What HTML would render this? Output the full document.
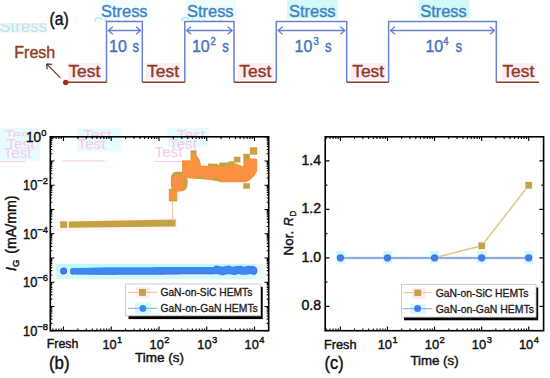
<!DOCTYPE html><html><head><meta charset="utf-8"><style>html,body{margin:0;padding:0;background:#fff;}svg{display:block;}text{font-family:"Liberation Sans", sans-serif;}</style></head><body>
<svg width="550" height="378" viewBox="0 0 550 378">
<rect width="550" height="378" fill="#fff"/>
<g opacity="1">
<rect x="99.2" y="0" width="51" height="18.5" fill="#f4fdfd"/>
<rect x="185.2" y="0" width="51" height="18.5" fill="#eefcfc"/>
<rect x="287.2" y="0" width="51" height="18.5" fill="#d4f8f8"/>
<rect x="418.4" y="0" width="51" height="18.5" fill="#d4f8f8"/>
<defs><clipPath id="g1"><rect x="0" y="23.6" width="48" height="8.4"/></clipPath><clipPath id="g2"><rect x="90" y="16.2" width="140" height="5.2"/></clipPath></defs>
<rect x="0" y="23" width="47" height="9.5" fill="#fdeefa"/>
<text x="-1" y="31.8" font-size="17" fill="#a6efef" textLength="48" lengthAdjust="spacingAndGlyphs" clip-path="url(#g1)">Stress</text>
<text x="93" y="28.6" font-size="17" fill="#a6efef" textLength="44" lengthAdjust="spacingAndGlyphs" clip-path="url(#g2)">Stress</text>
<text x="180" y="28.6" font-size="17" fill="#a6efef" textLength="44" lengthAdjust="spacingAndGlyphs" clip-path="url(#g2)">Stress</text>
<rect x="68" y="63" width="33" height="17" fill="#fdeef6"/>
<rect x="146" y="63" width="34" height="17" fill="#fdeef6"/>
<rect x="238" y="63" width="35" height="17" fill="#fdeef6"/>
<rect x="351" y="63" width="35" height="17" fill="#fdeef6"/>
<rect x="502" y="63" width="34" height="17" fill="#fdeef6"/>
</g>
<text x="49.6" y="24.8" font-size="17.5" fill="#111" stroke="#111" stroke-width="0.42" text-anchor="start" textLength="19.2" lengthAdjust="spacingAndGlyphs" >(a)</text>
<path d="M106.5,82.2 V21.6 H142.3 V82.2 M184.8,82.2 V21.6 H234 V82.2 M276.3,82.2 V21.6 H346.7 V82.2 M388.6,82.2 V21.6 H496.3 V82.2" fill="none" stroke="#6a82d2" stroke-width="1.5"/>
<path d="M66,82.2 H106.5 M142.3,82.2 H184.8 M234,82.2 H276.3 M346.7,82.2 H388.6 M496.3,82.2 H539" fill="none" stroke="#903a22" stroke-width="1.6"/>
<circle cx="65.7" cy="82.4" r="2.7" fill="#a8281c"/>
<path d="M108.3,30.5 H140.5 M112.8,26.7 L108.3,30.5 L112.8,34.3 M136.0,26.7 L140.5,30.5 L136.0,34.3" fill="none" stroke="#6a82d2" stroke-width="1.3"/>
<path d="M186.60000000000002,30.5 H232.2 M191.10000000000002,26.7 L186.60000000000002,30.5 L191.10000000000002,34.3 M227.7,26.7 L232.2,30.5 L227.7,34.3" fill="none" stroke="#6a82d2" stroke-width="1.3"/>
<path d="M278.1,30.5 H344.9 M282.6,26.7 L278.1,30.5 L282.6,34.3 M340.4,26.7 L344.9,30.5 L340.4,34.3" fill="none" stroke="#6a82d2" stroke-width="1.3"/>
<path d="M390.40000000000003,30.5 H494.5 M394.90000000000003,26.7 L390.40000000000003,30.5 L394.90000000000003,34.3 M490.0,26.7 L494.5,30.5 L490.0,34.3" fill="none" stroke="#6a82d2" stroke-width="1.3"/>
<text x="101.0" y="16.7" font-size="17.4" fill="#3d82c8" stroke="#3d82c8" stroke-width="0.4" text-anchor="start" textLength="46.6" lengthAdjust="spacingAndGlyphs" >Stress</text>
<text x="187.0" y="16.7" font-size="17.4" fill="#3d82c8" stroke="#3d82c8" stroke-width="0.4" text-anchor="start" textLength="46.6" lengthAdjust="spacingAndGlyphs" >Stress</text>
<text x="289.0" y="16.7" font-size="17.4" fill="#3d82c8" stroke="#3d82c8" stroke-width="0.4" text-anchor="start" textLength="46.6" lengthAdjust="spacingAndGlyphs" >Stress</text>
<text x="420.2" y="16.7" font-size="17.4" fill="#3d82c8" stroke="#3d82c8" stroke-width="0.4" text-anchor="start" textLength="46.6" lengthAdjust="spacingAndGlyphs" >Stress</text>
<text x="109" y="51.6" font-size="17" fill="#4870c0" stroke="#4870c0" stroke-width="0.4" text-anchor="start" textLength="17.8" lengthAdjust="spacingAndGlyphs" >10</text>
<text x="132.6" y="51.6" font-size="17" fill="#4870c0" stroke="#4870c0" stroke-width="0.4" text-anchor="start" textLength="6.6" lengthAdjust="spacingAndGlyphs" >s</text>
<text x="191.9" y="51.6" font-size="17" fill="#4870c0" stroke="#4870c0" stroke-width="0.4" text-anchor="start" textLength="17.8" lengthAdjust="spacingAndGlyphs" >10</text>
<text x="210.6" y="45.2" font-size="10.6" fill="#4870c0" stroke="#4870c0" stroke-width="0.4" text-anchor="start" textLength="5.3" lengthAdjust="spacingAndGlyphs" >2</text>
<text x="222.3" y="51.6" font-size="17" fill="#4870c0" stroke="#4870c0" stroke-width="0.4" text-anchor="start" textLength="6.6" lengthAdjust="spacingAndGlyphs" >s</text>
<text x="294.6" y="51.6" font-size="17" fill="#4870c0" stroke="#4870c0" stroke-width="0.4" text-anchor="start" textLength="17.8" lengthAdjust="spacingAndGlyphs" >10</text>
<text x="313.6" y="45.2" font-size="10.6" fill="#4870c0" stroke="#4870c0" stroke-width="0.4" text-anchor="start" textLength="5.3" lengthAdjust="spacingAndGlyphs" >3</text>
<text x="325.0" y="51.6" font-size="17" fill="#4870c0" stroke="#4870c0" stroke-width="0.4" text-anchor="start" textLength="6.6" lengthAdjust="spacingAndGlyphs" >s</text>
<text x="425.4" y="51.6" font-size="17" fill="#4870c0" stroke="#4870c0" stroke-width="0.4" text-anchor="start" textLength="17.8" lengthAdjust="spacingAndGlyphs" >10</text>
<text x="443.2" y="45.2" font-size="10.6" fill="#4870c0" stroke="#4870c0" stroke-width="0.4" text-anchor="start" textLength="5.3" lengthAdjust="spacingAndGlyphs" >4</text>
<text x="455.6" y="51.6" font-size="17" fill="#4870c0" stroke="#4870c0" stroke-width="0.4" text-anchor="start" textLength="6.6" lengthAdjust="spacingAndGlyphs" >s</text>
<text x="68.4" y="77.3" font-size="17.4" fill="#903a22" stroke="#903a22" stroke-width="0.4" text-anchor="start" textLength="32.0" lengthAdjust="spacingAndGlyphs" >Test</text>
<text x="147.0" y="77.3" font-size="17.4" fill="#903a22" stroke="#903a22" stroke-width="0.4" text-anchor="start" textLength="32.0" lengthAdjust="spacingAndGlyphs" >Test</text>
<text x="239.3" y="77.3" font-size="17.4" fill="#903a22" stroke="#903a22" stroke-width="0.4" text-anchor="start" textLength="32.0" lengthAdjust="spacingAndGlyphs" >Test</text>
<text x="352.2" y="77.3" font-size="17.4" fill="#903a22" stroke="#903a22" stroke-width="0.4" text-anchor="start" textLength="32.0" lengthAdjust="spacingAndGlyphs" >Test</text>
<text x="502.4" y="77.3" font-size="17.4" fill="#903a22" stroke="#903a22" stroke-width="0.4" text-anchor="start" textLength="32.0" lengthAdjust="spacingAndGlyphs" >Test</text>
<text x="14.3" y="57.5" font-size="16.8" fill="#903a22" stroke="#903a22" stroke-width="0.4" text-anchor="start" textLength="41" lengthAdjust="spacingAndGlyphs" >Fresh</text>
<path d="M60.4,77.9 L46.6,63.9 M46.6,63.9 L47.2,69.3 M46.6,63.9 L52,64.5" fill="none" stroke="#6b3a2a" stroke-width="1.3"/>
<defs><clipPath id="g3"><rect x="0" y="127.5" width="550" height="9"/></clipPath></defs>
<rect x="0" y="127.7" width="40" height="33" fill="#e6fcfc"/>
<rect x="77.5" y="128.2" width="43.5" height="23.3" fill="#e6fcfc"/>
<rect x="167.6" y="128" width="40.8" height="19" fill="#e6fcfc"/>
<text x="4.8" y="139.8" font-size="14.5" fill="#f8c8ef" textLength="28" lengthAdjust="spacingAndGlyphs" clip-path="url(#g3)">Test</text>
<text x="6.5" y="149.2" font-size="14.5" fill="#f8c8ef" textLength="28" lengthAdjust="spacingAndGlyphs">Test</text>
<text x="3.6" y="158.1" font-size="14.5" fill="#f8c8ef" textLength="28" lengthAdjust="spacingAndGlyphs">Test</text>
<text x="83.3" y="139.8" font-size="14.5" fill="#f8c8ef" textLength="28" lengthAdjust="spacingAndGlyphs" clip-path="url(#g3)">Test</text>
<text x="77.5" y="148.5" font-size="14.5" fill="#f8c8ef" textLength="28" lengthAdjust="spacingAndGlyphs">Test</text>
<text x="177" y="139.8" font-size="14.5" fill="#f8c8ef" textLength="28" lengthAdjust="spacingAndGlyphs" clip-path="url(#g3)">Test</text>
<text x="169" y="148.5" font-size="14.5" fill="#f8c8ef" textLength="28" lengthAdjust="spacingAndGlyphs">Test</text>
<text x="154.5" y="157.3" font-size="14.5" fill="#f8c8ef" textLength="28" lengthAdjust="spacingAndGlyphs">Test</text>
<path d="M0,161.7 H25.6 M61.5,160.9 H105 M154.5,161.6 H183.6" stroke="#f8c8ef" stroke-width="1"/>
<rect x="55.9" y="263.8" width="200.5" height="8" fill="#bdfbfb"/>
<rect x="55.9" y="271.8" width="200.5" height="7.4" fill="#cdfcfc"/>
<rect x="256.4" y="263.8" width="7.5" height="15.4" fill="#e4fdfb"/>
<rect x="57" y="218" width="122" height="13" fill="#fef6fa"/>
<rect x="60.2" y="221.3" width="6.9" height="6.6" fill="#c4a242"/>
<polygon points="68.7,221.6 175.6,219.6 175.6,226.4 68.7,227.8" fill="#c4a242"/>
<path d="M172.6,221 V201" stroke="#e9c9a0" stroke-width="1.1"/>
<rect x="168.8" y="188.8" width="8.4" height="12.6" fill="#c4a242"/>
<rect x="169.3" y="190.6" width="7.4" height="9.3" fill="#fa9140"/>
<path d="M170.9,178 Q171.5,172 176,171.8 L181.5,171.8 Q187.8,174 187.8,182 Q187.8,191.4 181,191.4 L175,191.4 Q170.9,190 170.9,184 Z" fill="#c4a242"/>
<path d="M172,179 Q173,175.5 177,175.5 L181,175.5 Q184.5,177 184.5,183 Q184.5,190.8 180,191.2 L176,191.2 Q172,189 172,184 Z" fill="#fa9140"/>
<polygon points="182,160.2 190.6,160.2 190.6,155.5 197,155.5 199.9,160.2 201,165.5 215,166.2 219.4,164.5 233.9,162.5 243.3,166.5 243.3,158.9 250,158.2 257.2,158.9 257.2,171.2 254,176.3 250,180 246,182.2 221,182.2 215,180.5 205,179.5 190,178.5 182,177" fill="#fa9140"/>
<rect x="190.6" y="150.3" width="5.9" height="6.2" fill="#c4a242"/>
<rect x="208" y="163.5" width="5" height="3.2" fill="#c4a242"/>
<rect x="213" y="163.8" width="5" height="3" fill="#c4a242"/>
<rect x="219.4" y="162.6" width="5.2" height="4" fill="#c4a242"/>
<rect x="224.2" y="162.4" width="5.2" height="4" fill="#c4a242"/>
<rect x="228.8" y="161.2" width="5.1" height="4" fill="#c4a242"/>
<rect x="233.9" y="156.7" width="6.5" height="5.8" fill="#c4a242"/>
<rect x="243.3" y="153.8" width="6.6" height="5.6" fill="#c4a242"/>
<rect x="249.9" y="147.3" width="7.3" height="7.4" fill="#c4a242"/>
<rect x="243.3" y="183.2" width="6.6" height="5.5" fill="#c4a242"/>
<rect x="196" y="176.5" width="8" height="2.4" fill="#c4a242"/>
<rect x="213" y="178" width="7" height="2.5" fill="#c4a242"/>
<rect x="191.8" y="153.6" width="3.8" height="3.4" fill="#fa9140"/>
<rect x="252" y="150" width="3.4" height="2.8" fill="#fa9140"/>
<circle cx="63.6" cy="271.1" r="3.5" fill="#4f62e6"/>
<circle cx="63.6" cy="271.1" r="2.2" fill="#4378ee"/>
<circle cx="73.30" cy="271.49" r="3.3" fill="#5a68e2"/>
<circle cx="77.70" cy="271.48" r="3.3" fill="#5a68e2"/>
<circle cx="81.66" cy="271.46" r="3.3" fill="#5a68e2"/>
<circle cx="85.22" cy="271.45" r="3.3" fill="#5a68e2"/>
<circle cx="88.43" cy="271.43" r="3.3" fill="#5a68e2"/>
<circle cx="91.32" cy="271.42" r="3.3" fill="#5a68e2"/>
<circle cx="93.92" cy="271.41" r="3.3" fill="#5a68e2"/>
<circle cx="96.25" cy="271.40" r="3.3" fill="#5a68e2"/>
<circle cx="98.36" cy="271.39" r="3.3" fill="#5a68e2"/>
<circle cx="100.25" cy="271.39" r="3.3" fill="#5a68e2"/>
<circle cx="101.96" cy="271.38" r="3.3" fill="#5a68e2"/>
<circle cx="103.49" cy="271.37" r="3.3" fill="#5a68e2"/>
<circle cx="104.87" cy="271.37" r="3.3" fill="#5a68e2"/>
<circle cx="106.12" cy="271.36" r="3.3" fill="#5a68e2"/>
<circle cx="107.32" cy="271.36" r="3.3" fill="#5a68e2"/>
<circle cx="108.52" cy="271.35" r="3.3" fill="#5a68e2"/>
<circle cx="109.72" cy="271.35" r="3.3" fill="#5a68e2"/>
<circle cx="110.92" cy="271.34" r="3.3" fill="#5a68e2"/>
<circle cx="112.12" cy="271.34" r="3.3" fill="#5a68e2"/>
<circle cx="113.32" cy="271.33" r="3.3" fill="#5a68e2"/>
<circle cx="114.52" cy="271.33" r="3.3" fill="#5a68e2"/>
<circle cx="115.72" cy="271.33" r="3.3" fill="#5a68e2"/>
<circle cx="116.92" cy="271.32" r="3.3" fill="#5a68e2"/>
<circle cx="118.12" cy="271.32" r="3.3" fill="#5a68e2"/>
<circle cx="119.32" cy="271.31" r="3.3" fill="#5a68e2"/>
<circle cx="120.52" cy="271.31" r="3.3" fill="#5a68e2"/>
<circle cx="121.72" cy="271.30" r="3.3" fill="#5a68e2"/>
<circle cx="122.92" cy="271.30" r="3.3" fill="#5a68e2"/>
<circle cx="124.12" cy="271.29" r="3.3" fill="#5a68e2"/>
<circle cx="125.32" cy="271.29" r="3.3" fill="#5a68e2"/>
<circle cx="126.52" cy="271.28" r="3.3" fill="#5a68e2"/>
<circle cx="127.72" cy="271.28" r="3.3" fill="#5a68e2"/>
<circle cx="128.92" cy="271.27" r="3.3" fill="#5a68e2"/>
<circle cx="130.12" cy="271.27" r="3.3" fill="#5a68e2"/>
<circle cx="131.32" cy="271.26" r="3.3" fill="#5a68e2"/>
<circle cx="132.52" cy="271.26" r="3.3" fill="#5a68e2"/>
<circle cx="133.72" cy="271.25" r="3.3" fill="#5a68e2"/>
<circle cx="134.92" cy="271.25" r="3.3" fill="#5a68e2"/>
<circle cx="136.12" cy="271.24" r="3.3" fill="#5a68e2"/>
<circle cx="137.32" cy="271.24" r="3.3" fill="#5a68e2"/>
<circle cx="138.52" cy="271.23" r="3.3" fill="#5a68e2"/>
<circle cx="139.72" cy="271.23" r="3.3" fill="#5a68e2"/>
<circle cx="140.92" cy="271.22" r="3.3" fill="#5a68e2"/>
<circle cx="142.12" cy="271.22" r="3.3" fill="#5a68e2"/>
<circle cx="143.32" cy="271.21" r="3.3" fill="#5a68e2"/>
<circle cx="144.52" cy="271.21" r="3.3" fill="#5a68e2"/>
<circle cx="145.72" cy="271.21" r="3.3" fill="#5a68e2"/>
<circle cx="146.92" cy="271.20" r="3.3" fill="#5a68e2"/>
<circle cx="148.12" cy="271.20" r="3.3" fill="#5a68e2"/>
<circle cx="149.32" cy="271.19" r="3.3" fill="#5a68e2"/>
<circle cx="150.52" cy="271.19" r="3.3" fill="#5a68e2"/>
<circle cx="151.72" cy="271.18" r="3.3" fill="#5a68e2"/>
<circle cx="152.92" cy="271.18" r="3.3" fill="#5a68e2"/>
<circle cx="154.12" cy="271.17" r="3.3" fill="#5a68e2"/>
<circle cx="155.32" cy="271.17" r="3.3" fill="#5a68e2"/>
<circle cx="156.52" cy="271.16" r="3.3" fill="#5a68e2"/>
<circle cx="157.72" cy="271.16" r="3.3" fill="#5a68e2"/>
<circle cx="158.92" cy="271.15" r="3.3" fill="#5a68e2"/>
<circle cx="160.12" cy="271.15" r="3.3" fill="#5a68e2"/>
<circle cx="161.32" cy="271.14" r="3.3" fill="#5a68e2"/>
<circle cx="162.52" cy="271.14" r="3.3" fill="#5a68e2"/>
<circle cx="163.72" cy="271.13" r="3.3" fill="#5a68e2"/>
<circle cx="164.92" cy="271.13" r="3.3" fill="#5a68e2"/>
<circle cx="166.12" cy="271.12" r="3.3" fill="#5a68e2"/>
<circle cx="167.32" cy="271.12" r="3.3" fill="#5a68e2"/>
<circle cx="168.52" cy="271.11" r="3.3" fill="#5a68e2"/>
<circle cx="169.72" cy="271.11" r="3.3" fill="#5a68e2"/>
<circle cx="170.92" cy="271.10" r="3.3" fill="#5a68e2"/>
<circle cx="172.12" cy="271.10" r="3.3" fill="#5a68e2"/>
<circle cx="173.32" cy="271.09" r="3.3" fill="#5a68e2"/>
<circle cx="174.52" cy="271.09" r="3.3" fill="#5a68e2"/>
<circle cx="175.72" cy="271.09" r="3.3" fill="#5a68e2"/>
<circle cx="176.92" cy="271.08" r="3.3" fill="#5a68e2"/>
<circle cx="178.12" cy="271.08" r="3.3" fill="#5a68e2"/>
<circle cx="179.32" cy="271.07" r="3.3" fill="#5a68e2"/>
<circle cx="180.52" cy="271.07" r="3.3" fill="#5a68e2"/>
<circle cx="181.72" cy="271.06" r="3.3" fill="#5a68e2"/>
<circle cx="182.92" cy="271.06" r="3.3" fill="#5a68e2"/>
<circle cx="184.12" cy="271.05" r="3.3" fill="#5a68e2"/>
<circle cx="185.32" cy="271.05" r="3.3" fill="#5a68e2"/>
<circle cx="186.52" cy="271.04" r="3.3" fill="#5a68e2"/>
<circle cx="187.72" cy="271.04" r="3.3" fill="#5a68e2"/>
<circle cx="188.92" cy="271.03" r="3.3" fill="#5a68e2"/>
<circle cx="190.12" cy="271.03" r="3.3" fill="#5a68e2"/>
<circle cx="191.32" cy="271.02" r="3.3" fill="#5a68e2"/>
<circle cx="192.52" cy="271.02" r="3.3" fill="#5a68e2"/>
<circle cx="193.72" cy="271.01" r="3.3" fill="#5a68e2"/>
<circle cx="194.92" cy="271.01" r="3.3" fill="#5a68e2"/>
<circle cx="196.12" cy="271.00" r="3.3" fill="#5a68e2"/>
<circle cx="197.32" cy="271.00" r="3.3" fill="#5a68e2"/>
<circle cx="198.52" cy="270.99" r="3.3" fill="#5a68e2"/>
<circle cx="199.72" cy="270.99" r="3.3" fill="#5a68e2"/>
<circle cx="200.92" cy="270.98" r="3.3" fill="#5a68e2"/>
<circle cx="202.12" cy="270.98" r="3.3" fill="#5a68e2"/>
<circle cx="203.32" cy="270.97" r="3.3" fill="#5a68e2"/>
<circle cx="204.52" cy="270.97" r="3.3" fill="#5a68e2"/>
<circle cx="205.72" cy="270.97" r="3.3" fill="#5a68e2"/>
<circle cx="206.92" cy="270.96" r="3.3" fill="#5a68e2"/>
<circle cx="208.12" cy="270.96" r="3.3" fill="#5a68e2"/>
<circle cx="209.32" cy="270.95" r="3.3" fill="#5a68e2"/>
<circle cx="210.52" cy="270.95" r="3.3" fill="#5a68e2"/>
<circle cx="211.72" cy="270.94" r="3.3" fill="#5a68e2"/>
<circle cx="212.92" cy="270.94" r="3.3" fill="#5a68e2"/>
<circle cx="214.12" cy="270.93" r="3.3" fill="#5a68e2"/>
<circle cx="215.32" cy="270.45" r="3.5" fill="#5867e4"/>
<circle cx="216.52" cy="269.05" r="3.5" fill="#5867e4"/>
<circle cx="217.72" cy="270.25" r="3.5" fill="#5867e4"/>
<circle cx="218.92" cy="270.88" r="3.5" fill="#5867e4"/>
<circle cx="220.12" cy="269.75" r="3.5" fill="#5867e4"/>
<circle cx="221.32" cy="270.58" r="3.5" fill="#5867e4"/>
<circle cx="222.52" cy="271.79" r="3.5" fill="#5867e4"/>
<circle cx="223.72" cy="270.40" r="3.5" fill="#5867e4"/>
<circle cx="224.92" cy="269.79" r="3.5" fill="#5867e4"/>
<circle cx="226.12" cy="270.91" r="3.5" fill="#5867e4"/>
<circle cx="227.32" cy="270.05" r="3.5" fill="#5867e4"/>
<circle cx="228.52" cy="269.02" r="3.5" fill="#5867e4"/>
<circle cx="229.72" cy="270.56" r="3.5" fill="#5867e4"/>
<circle cx="230.92" cy="271.09" r="3.5" fill="#5867e4"/>
<circle cx="232.12" cy="269.94" r="3.5" fill="#5867e4"/>
<circle cx="233.32" cy="270.77" r="3.5" fill="#5867e4"/>
<circle cx="234.52" cy="271.59" r="3.5" fill="#5867e4"/>
<circle cx="235.72" cy="269.93" r="3.5" fill="#5867e4"/>
<circle cx="236.92" cy="269.50" r="3.5" fill="#5867e4"/>
<circle cx="238.12" cy="270.70" r="3.5" fill="#5867e4"/>
<circle cx="239.32" cy="269.89" r="3.5" fill="#5867e4"/>
<circle cx="240.52" cy="269.24" r="3.5" fill="#5867e4"/>
<circle cx="241.72" cy="270.97" r="3.5" fill="#5867e4"/>
<circle cx="242.92" cy="271.23" r="3.5" fill="#5867e4"/>
<circle cx="244.12" cy="269.94" r="3.5" fill="#5867e4"/>
<circle cx="245.32" cy="270.72" r="3.5" fill="#5867e4"/>
<circle cx="246.52" cy="271.19" r="3.5" fill="#5867e4"/>
<circle cx="247.72" cy="269.43" r="3.5" fill="#5867e4"/>
<circle cx="248.92" cy="269.36" r="3.5" fill="#5867e4"/>
<circle cx="250.12" cy="270.71" r="3.5" fill="#5867e4"/>
<circle cx="251.32" cy="269.95" r="3.5" fill="#5867e4"/>
<circle cx="252.52" cy="269.60" r="3.5" fill="#5867e4"/>
<circle cx="253.72" cy="271.32" r="3.5" fill="#5867e4"/>
<circle cx="73.30" cy="270.69" r="3.0" fill="#3d89f3"/>
<circle cx="77.70" cy="270.68" r="3.0" fill="#3d89f3"/>
<circle cx="81.66" cy="270.66" r="3.0" fill="#3d89f3"/>
<circle cx="85.22" cy="270.65" r="3.0" fill="#3d89f3"/>
<circle cx="88.43" cy="270.63" r="3.0" fill="#3d89f3"/>
<circle cx="91.32" cy="270.62" r="3.0" fill="#3d89f3"/>
<circle cx="93.92" cy="270.61" r="3.0" fill="#3d89f3"/>
<circle cx="96.25" cy="270.60" r="3.0" fill="#3d89f3"/>
<circle cx="98.36" cy="270.59" r="3.0" fill="#3d89f3"/>
<circle cx="100.25" cy="270.59" r="3.0" fill="#3d89f3"/>
<circle cx="101.96" cy="270.58" r="3.0" fill="#3d89f3"/>
<circle cx="103.49" cy="270.57" r="3.0" fill="#3d89f3"/>
<circle cx="104.87" cy="270.57" r="3.0" fill="#3d89f3"/>
<circle cx="106.12" cy="270.56" r="3.0" fill="#3d89f3"/>
<circle cx="107.32" cy="270.56" r="3.0" fill="#3d89f3"/>
<circle cx="108.52" cy="270.55" r="3.0" fill="#3d89f3"/>
<circle cx="109.72" cy="270.55" r="3.0" fill="#3d89f3"/>
<circle cx="110.92" cy="270.54" r="3.0" fill="#3d89f3"/>
<circle cx="112.12" cy="270.54" r="3.0" fill="#3d89f3"/>
<circle cx="113.32" cy="270.53" r="3.0" fill="#3d89f3"/>
<circle cx="114.52" cy="270.53" r="3.0" fill="#3d89f3"/>
<circle cx="115.72" cy="270.53" r="3.0" fill="#3d89f3"/>
<circle cx="116.92" cy="270.52" r="3.0" fill="#3d89f3"/>
<circle cx="118.12" cy="270.52" r="3.0" fill="#3d89f3"/>
<circle cx="119.32" cy="270.51" r="3.0" fill="#3d89f3"/>
<circle cx="120.52" cy="270.51" r="3.0" fill="#3d89f3"/>
<circle cx="121.72" cy="270.50" r="3.0" fill="#3d89f3"/>
<circle cx="122.92" cy="270.50" r="3.0" fill="#3d89f3"/>
<circle cx="124.12" cy="270.49" r="3.0" fill="#3d89f3"/>
<circle cx="125.32" cy="270.49" r="3.0" fill="#3d89f3"/>
<circle cx="126.52" cy="270.48" r="3.0" fill="#3d89f3"/>
<circle cx="127.72" cy="270.48" r="3.0" fill="#3d89f3"/>
<circle cx="128.92" cy="270.47" r="3.0" fill="#3d89f3"/>
<circle cx="130.12" cy="270.47" r="3.0" fill="#3d89f3"/>
<circle cx="131.32" cy="270.46" r="3.0" fill="#3d89f3"/>
<circle cx="132.52" cy="270.46" r="3.0" fill="#3d89f3"/>
<circle cx="133.72" cy="270.45" r="3.0" fill="#3d89f3"/>
<circle cx="134.92" cy="270.45" r="3.0" fill="#3d89f3"/>
<circle cx="136.12" cy="270.44" r="3.0" fill="#3d89f3"/>
<circle cx="137.32" cy="270.44" r="3.0" fill="#3d89f3"/>
<circle cx="138.52" cy="270.43" r="3.0" fill="#3d89f3"/>
<circle cx="139.72" cy="270.43" r="3.0" fill="#3d89f3"/>
<circle cx="140.92" cy="270.42" r="3.0" fill="#3d89f3"/>
<circle cx="142.12" cy="270.42" r="3.0" fill="#3d89f3"/>
<circle cx="143.32" cy="270.41" r="3.0" fill="#3d89f3"/>
<circle cx="144.52" cy="270.41" r="3.0" fill="#3d89f3"/>
<circle cx="145.72" cy="270.41" r="3.0" fill="#3d89f3"/>
<circle cx="146.92" cy="270.40" r="3.0" fill="#3d89f3"/>
<circle cx="148.12" cy="270.40" r="3.0" fill="#3d89f3"/>
<circle cx="149.32" cy="270.39" r="3.0" fill="#3d89f3"/>
<circle cx="150.52" cy="270.39" r="3.0" fill="#3d89f3"/>
<circle cx="151.72" cy="270.38" r="3.0" fill="#3d89f3"/>
<circle cx="152.92" cy="270.38" r="3.0" fill="#3d89f3"/>
<circle cx="154.12" cy="270.37" r="3.0" fill="#3d89f3"/>
<circle cx="155.32" cy="270.37" r="3.0" fill="#3d89f3"/>
<circle cx="156.52" cy="270.36" r="3.0" fill="#3d89f3"/>
<circle cx="157.72" cy="270.36" r="3.0" fill="#3d89f3"/>
<circle cx="158.92" cy="270.35" r="3.0" fill="#3d89f3"/>
<circle cx="160.12" cy="270.35" r="3.0" fill="#3d89f3"/>
<circle cx="161.32" cy="270.34" r="3.0" fill="#3d89f3"/>
<circle cx="162.52" cy="270.34" r="3.0" fill="#3d89f3"/>
<circle cx="163.72" cy="270.33" r="3.0" fill="#3d89f3"/>
<circle cx="164.92" cy="270.33" r="3.0" fill="#3d89f3"/>
<circle cx="166.12" cy="270.32" r="3.0" fill="#3d89f3"/>
<circle cx="167.32" cy="270.32" r="3.0" fill="#3d89f3"/>
<circle cx="168.52" cy="270.31" r="3.0" fill="#3d89f3"/>
<circle cx="169.72" cy="270.31" r="3.0" fill="#3d89f3"/>
<circle cx="170.92" cy="270.30" r="3.0" fill="#3d89f3"/>
<circle cx="172.12" cy="270.30" r="3.0" fill="#3d89f3"/>
<circle cx="173.32" cy="270.29" r="3.0" fill="#3d89f3"/>
<circle cx="174.52" cy="270.29" r="3.0" fill="#3d89f3"/>
<circle cx="175.72" cy="270.29" r="3.0" fill="#3d89f3"/>
<circle cx="176.92" cy="270.28" r="3.0" fill="#3d89f3"/>
<circle cx="178.12" cy="270.28" r="3.0" fill="#3d89f3"/>
<circle cx="179.32" cy="270.27" r="3.0" fill="#3d89f3"/>
<circle cx="180.52" cy="270.27" r="3.0" fill="#3d89f3"/>
<circle cx="181.72" cy="270.26" r="3.0" fill="#3d89f3"/>
<circle cx="182.92" cy="270.26" r="3.0" fill="#3d89f3"/>
<circle cx="184.12" cy="270.25" r="3.0" fill="#3d89f3"/>
<circle cx="185.32" cy="270.25" r="3.0" fill="#3d89f3"/>
<circle cx="186.52" cy="270.24" r="3.0" fill="#3d89f3"/>
<circle cx="187.72" cy="270.24" r="3.0" fill="#3d89f3"/>
<circle cx="188.92" cy="270.23" r="3.0" fill="#3d89f3"/>
<circle cx="190.12" cy="270.23" r="3.0" fill="#3d89f3"/>
<circle cx="191.32" cy="270.22" r="3.0" fill="#3d89f3"/>
<circle cx="192.52" cy="270.22" r="3.0" fill="#3d89f3"/>
<circle cx="193.72" cy="270.21" r="3.0" fill="#3d89f3"/>
<circle cx="194.92" cy="270.21" r="3.0" fill="#3d89f3"/>
<circle cx="196.12" cy="270.20" r="3.0" fill="#3d89f3"/>
<circle cx="197.32" cy="270.20" r="3.0" fill="#3d89f3"/>
<circle cx="198.52" cy="270.19" r="3.0" fill="#3d89f3"/>
<circle cx="199.72" cy="270.19" r="3.0" fill="#3d89f3"/>
<circle cx="200.92" cy="270.18" r="3.0" fill="#3d89f3"/>
<circle cx="202.12" cy="270.18" r="3.0" fill="#3d89f3"/>
<circle cx="203.32" cy="270.17" r="3.0" fill="#3d89f3"/>
<circle cx="204.52" cy="270.17" r="3.0" fill="#3d89f3"/>
<circle cx="205.72" cy="270.17" r="3.0" fill="#3d89f3"/>
<circle cx="206.92" cy="270.16" r="3.0" fill="#3d89f3"/>
<circle cx="208.12" cy="270.16" r="3.0" fill="#3d89f3"/>
<circle cx="209.32" cy="270.15" r="3.0" fill="#3d89f3"/>
<circle cx="210.52" cy="270.15" r="3.0" fill="#3d89f3"/>
<circle cx="211.72" cy="270.14" r="3.0" fill="#3d89f3"/>
<circle cx="212.92" cy="270.14" r="3.0" fill="#3d89f3"/>
<circle cx="214.12" cy="270.13" r="3.0" fill="#3d89f3"/>
<circle cx="215.32" cy="270.45" r="2.9" fill="#3d89f3"/>
<circle cx="216.52" cy="269.05" r="2.9" fill="#3d89f3"/>
<circle cx="217.72" cy="270.25" r="2.9" fill="#3d89f3"/>
<circle cx="218.92" cy="270.88" r="2.9" fill="#3d89f3"/>
<circle cx="220.12" cy="269.75" r="2.9" fill="#3d89f3"/>
<circle cx="221.32" cy="270.58" r="2.9" fill="#3d89f3"/>
<circle cx="222.52" cy="271.79" r="2.9" fill="#3d89f3"/>
<circle cx="223.72" cy="270.40" r="2.9" fill="#3d89f3"/>
<circle cx="224.92" cy="269.79" r="2.9" fill="#3d89f3"/>
<circle cx="226.12" cy="270.91" r="2.9" fill="#3d89f3"/>
<circle cx="227.32" cy="270.05" r="2.9" fill="#3d89f3"/>
<circle cx="228.52" cy="269.02" r="2.9" fill="#3d89f3"/>
<circle cx="229.72" cy="270.56" r="2.9" fill="#3d89f3"/>
<circle cx="230.92" cy="271.09" r="2.9" fill="#3d89f3"/>
<circle cx="232.12" cy="269.94" r="2.9" fill="#3d89f3"/>
<circle cx="233.32" cy="270.77" r="2.9" fill="#3d89f3"/>
<circle cx="234.52" cy="271.59" r="2.9" fill="#3d89f3"/>
<circle cx="235.72" cy="269.93" r="2.9" fill="#3d89f3"/>
<circle cx="236.92" cy="269.50" r="2.9" fill="#3d89f3"/>
<circle cx="238.12" cy="270.70" r="2.9" fill="#3d89f3"/>
<circle cx="239.32" cy="269.89" r="2.9" fill="#3d89f3"/>
<circle cx="240.52" cy="269.24" r="2.9" fill="#3d89f3"/>
<circle cx="241.72" cy="270.97" r="2.9" fill="#3d89f3"/>
<circle cx="242.92" cy="271.23" r="2.9" fill="#3d89f3"/>
<circle cx="244.12" cy="269.94" r="2.9" fill="#3d89f3"/>
<circle cx="245.32" cy="270.72" r="2.9" fill="#3d89f3"/>
<circle cx="246.52" cy="271.19" r="2.9" fill="#3d89f3"/>
<circle cx="247.72" cy="269.43" r="2.9" fill="#3d89f3"/>
<circle cx="248.92" cy="269.36" r="2.9" fill="#3d89f3"/>
<circle cx="250.12" cy="270.71" r="2.9" fill="#3d89f3"/>
<circle cx="251.32" cy="269.95" r="2.9" fill="#3d89f3"/>
<circle cx="252.52" cy="269.60" r="2.9" fill="#3d89f3"/>
<circle cx="253.72" cy="271.32" r="2.9" fill="#3d89f3"/>
<circle cx="253.8" cy="270.3" r="3.5" fill="#5867e4"/>
<circle cx="253.6" cy="270.2" r="2.9" fill="#3d89f3"/>
<rect x="128.5" y="286.8" width="134.2" height="32.3" fill="#000"/>
<rect x="125.5" y="284" width="135" height="31.8" fill="#fff" stroke="#c9c9c9" stroke-width="0.9"/>
<rect x="136" y="287" width="14" height="11" fill="#fdeaf2"/>
<rect x="135" y="302.5" width="16" height="11.5" fill="#cffdfd"/>
<path d="M128,292.4 H157.5" stroke="#ebcf9c" stroke-width="1.2"/>
<rect x="139" y="289" width="6.9" height="6.9" fill="#c4a242"/>
<path d="M128,308.4 H157.5" stroke="#a7afe6" stroke-width="1.2"/>
<circle cx="142.9" cy="308.4" r="3.4" fill="#3d89f3"/>
<text x="160.4" y="296.0" font-size="10.6" fill="#1a1a1a" stroke="#1a1a1a" stroke-width="0.3" text-anchor="start" textLength="92.0" lengthAdjust="spacingAndGlyphs" >GaN-on-SiC HEMTs</text>
<text x="160.4" y="311.9" font-size="10.6" fill="#1a1a1a" stroke="#1a1a1a" stroke-width="0.3" text-anchor="start" textLength="97.4" lengthAdjust="spacingAndGlyphs" >GaN-on-GaN HEMTs</text>
<rect x="50.3" y="136.8" width="218.39999999999998" height="193.89999999999998" fill="none" stroke="#000" stroke-width="1.6"/>
<path d="M63.50,330.7 v-4.2 M63.50,136.8 v4.2 M111.25,330.7 v-4.2 M111.25,136.8 v4.2 M159.00,330.7 v-4.2 M159.00,136.8 v4.2 M206.75,330.7 v-4.2 M206.75,136.8 v4.2 M254.50,330.7 v-4.2 M254.50,136.8 v4.2 M52.91,330.7 v-2.2 M52.91,136.8 v2.2 M56.10,330.7 v-2.2 M56.10,136.8 v2.2 M58.87,330.7 v-2.2 M58.87,136.8 v2.2 M61.32,330.7 v-2.2 M61.32,136.8 v2.2 M77.87,330.7 v-2.2 M77.87,136.8 v2.2 M86.28,330.7 v-2.2 M86.28,136.8 v2.2 M92.25,330.7 v-2.2 M92.25,136.8 v2.2 M96.88,330.7 v-2.2 M96.88,136.8 v2.2 M100.66,330.7 v-2.2 M100.66,136.8 v2.2 M103.85,330.7 v-2.2 M103.85,136.8 v2.2 M106.62,330.7 v-2.2 M106.62,136.8 v2.2 M109.07,330.7 v-2.2 M109.07,136.8 v2.2 M125.62,330.7 v-2.2 M125.62,136.8 v2.2 M134.03,330.7 v-2.2 M134.03,136.8 v2.2 M140.00,330.7 v-2.2 M140.00,136.8 v2.2 M144.63,330.7 v-2.2 M144.63,136.8 v2.2 M148.41,330.7 v-2.2 M148.41,136.8 v2.2 M151.60,330.7 v-2.2 M151.60,136.8 v2.2 M154.37,330.7 v-2.2 M154.37,136.8 v2.2 M156.82,330.7 v-2.2 M156.82,136.8 v2.2 M173.37,330.7 v-2.2 M173.37,136.8 v2.2 M181.78,330.7 v-2.2 M181.78,136.8 v2.2 M187.75,330.7 v-2.2 M187.75,136.8 v2.2 M192.38,330.7 v-2.2 M192.38,136.8 v2.2 M196.16,330.7 v-2.2 M196.16,136.8 v2.2 M199.35,330.7 v-2.2 M199.35,136.8 v2.2 M202.12,330.7 v-2.2 M202.12,136.8 v2.2 M204.57,330.7 v-2.2 M204.57,136.8 v2.2 M221.12,330.7 v-2.2 M221.12,136.8 v2.2 M229.53,330.7 v-2.2 M229.53,136.8 v2.2 M235.50,330.7 v-2.2 M235.50,136.8 v2.2 M240.13,330.7 v-2.2 M240.13,136.8 v2.2 M243.91,330.7 v-2.2 M243.91,136.8 v2.2 M247.10,330.7 v-2.2 M247.10,136.8 v2.2 M249.87,330.7 v-2.2 M249.87,136.8 v2.2 M252.32,330.7 v-2.2 M252.32,136.8 v2.2 M50.3,136.80 h4.2 M268.7,136.80 h-4.2 M50.3,161.04 h4.2 M268.7,161.04 h-4.2 M50.3,185.28 h4.2 M268.7,185.28 h-4.2 M50.3,209.51 h4.2 M268.7,209.51 h-4.2 M50.3,233.75 h4.2 M268.7,233.75 h-4.2 M50.3,257.99 h4.2 M268.7,257.99 h-4.2 M50.3,282.23 h4.2 M268.7,282.23 h-4.2 M50.3,306.46 h4.2 M268.7,306.46 h-4.2 M50.3,330.70 h4.2 M268.7,330.70 h-4.2 M50.3,323.40 h2.0 M268.7,323.40 h-2.0 M50.3,319.14 h2.0 M268.7,319.14 h-2.0 M50.3,316.11 h2.0 M268.7,316.11 h-2.0 M50.3,313.76 h2.0 M268.7,313.76 h-2.0 M50.3,311.84 h2.0 M268.7,311.84 h-2.0 M50.3,310.22 h2.0 M268.7,310.22 h-2.0 M50.3,308.81 h2.0 M268.7,308.81 h-2.0 M50.3,307.57 h2.0 M268.7,307.57 h-2.0 M50.3,299.17 h2.0 M268.7,299.17 h-2.0 M50.3,294.90 h2.0 M268.7,294.90 h-2.0 M50.3,291.87 h2.0 M268.7,291.87 h-2.0 M50.3,289.52 h2.0 M268.7,289.52 h-2.0 M50.3,287.60 h2.0 M268.7,287.60 h-2.0 M50.3,285.98 h2.0 M268.7,285.98 h-2.0 M50.3,284.57 h2.0 M268.7,284.57 h-2.0 M50.3,283.33 h2.0 M268.7,283.33 h-2.0 M50.3,274.93 h2.0 M268.7,274.93 h-2.0 M50.3,270.66 h2.0 M268.7,270.66 h-2.0 M50.3,267.63 h2.0 M268.7,267.63 h-2.0 M50.3,265.28 h2.0 M268.7,265.28 h-2.0 M50.3,263.36 h2.0 M268.7,263.36 h-2.0 M50.3,261.74 h2.0 M268.7,261.74 h-2.0 M50.3,260.34 h2.0 M268.7,260.34 h-2.0 M50.3,259.10 h2.0 M268.7,259.10 h-2.0 M50.3,250.69 h2.0 M268.7,250.69 h-2.0 M50.3,246.42 h2.0 M268.7,246.42 h-2.0 M50.3,243.40 h2.0 M268.7,243.40 h-2.0 M50.3,241.05 h2.0 M268.7,241.05 h-2.0 M50.3,239.13 h2.0 M268.7,239.13 h-2.0 M50.3,237.50 h2.0 M268.7,237.50 h-2.0 M50.3,236.10 h2.0 M268.7,236.10 h-2.0 M50.3,234.86 h2.0 M268.7,234.86 h-2.0 M50.3,226.45 h2.0 M268.7,226.45 h-2.0 M50.3,222.19 h2.0 M268.7,222.19 h-2.0 M50.3,219.16 h2.0 M268.7,219.16 h-2.0 M50.3,216.81 h2.0 M268.7,216.81 h-2.0 M50.3,214.89 h2.0 M268.7,214.89 h-2.0 M50.3,213.27 h2.0 M268.7,213.27 h-2.0 M50.3,211.86 h2.0 M268.7,211.86 h-2.0 M50.3,210.62 h2.0 M268.7,210.62 h-2.0 M50.3,202.22 h2.0 M268.7,202.22 h-2.0 M50.3,197.95 h2.0 M268.7,197.95 h-2.0 M50.3,194.92 h2.0 M268.7,194.92 h-2.0 M50.3,192.57 h2.0 M268.7,192.57 h-2.0 M50.3,190.65 h2.0 M268.7,190.65 h-2.0 M50.3,189.03 h2.0 M268.7,189.03 h-2.0 M50.3,187.62 h2.0 M268.7,187.62 h-2.0 M50.3,186.38 h2.0 M268.7,186.38 h-2.0 M50.3,177.98 h2.0 M268.7,177.98 h-2.0 M50.3,173.71 h2.0 M268.7,173.71 h-2.0 M50.3,170.68 h2.0 M268.7,170.68 h-2.0 M50.3,168.33 h2.0 M268.7,168.33 h-2.0 M50.3,166.41 h2.0 M268.7,166.41 h-2.0 M50.3,164.79 h2.0 M268.7,164.79 h-2.0 M50.3,163.39 h2.0 M268.7,163.39 h-2.0 M50.3,162.15 h2.0 M268.7,162.15 h-2.0 M50.3,153.74 h2.0 M268.7,153.74 h-2.0 M50.3,149.47 h2.0 M268.7,149.47 h-2.0 M50.3,146.45 h2.0 M268.7,146.45 h-2.0 M50.3,144.10 h2.0 M268.7,144.10 h-2.0 M50.3,142.18 h2.0 M268.7,142.18 h-2.0 M50.3,140.55 h2.0 M268.7,140.55 h-2.0 M50.3,139.15 h2.0 M268.7,139.15 h-2.0 M50.3,137.91 h2.0 M268.7,137.91 h-2.0 " stroke="#000" stroke-width="1.1" fill="none"/>
<text x="46.4" y="141.80" font-size="13.8" text-anchor="end" fill="#111" stroke="#111" stroke-width="0.42"><tspan textLength="15.2" lengthAdjust="spacingAndGlyphs">10</tspan><tspan dy="-6.2" font-size="9.4">0</tspan></text>
<text x="48" y="190.28" font-size="13.8" text-anchor="end" fill="#111" stroke="#111" stroke-width="0.42"><tspan textLength="14.2" lengthAdjust="spacingAndGlyphs">10</tspan><tspan dy="-6.2" font-size="9.4">&#8722;2</tspan></text>
<text x="48" y="238.75" font-size="13.8" text-anchor="end" fill="#111" stroke="#111" stroke-width="0.42"><tspan textLength="14.2" lengthAdjust="spacingAndGlyphs">10</tspan><tspan dy="-6.2" font-size="9.4">&#8722;4</tspan></text>
<text x="48" y="287.23" font-size="13.8" text-anchor="end" fill="#111" stroke="#111" stroke-width="0.42"><tspan textLength="14.2" lengthAdjust="spacingAndGlyphs">10</tspan><tspan dy="-6.2" font-size="9.4">&#8722;6</tspan></text>
<text x="48" y="335.70" font-size="13.8" text-anchor="end" fill="#111" stroke="#111" stroke-width="0.42"><tspan textLength="14.2" lengthAdjust="spacingAndGlyphs">10</tspan><tspan dy="-6.2" font-size="9.4">&#8722;8</tspan></text>
<text x="62.6" y="348.2" font-size="13.2" fill="#111" stroke="#111" stroke-width="0.42" text-anchor="middle" textLength="31.6" lengthAdjust="spacingAndGlyphs" >Fresh</text>
<text x="102.40" y="349.1" font-size="13.6" fill="#111" stroke="#111" stroke-width="0.42"><tspan textLength="14.2" lengthAdjust="spacingAndGlyphs">10</tspan><tspan dx="0.4" dy="-5.9" font-size="9.4">1</tspan></text>
<text x="149.60" y="349.1" font-size="13.6" fill="#111" stroke="#111" stroke-width="0.42"><tspan textLength="14.2" lengthAdjust="spacingAndGlyphs">10</tspan><tspan dx="0.4" dy="-5.9" font-size="9.4">2</tspan></text>
<text x="197.30" y="349.1" font-size="13.6" fill="#111" stroke="#111" stroke-width="0.42"><tspan textLength="14.2" lengthAdjust="spacingAndGlyphs">10</tspan><tspan dx="0.4" dy="-5.9" font-size="9.4">3</tspan></text>
<text x="244.60" y="349.1" font-size="13.6" fill="#111" stroke="#111" stroke-width="0.42"><tspan textLength="14.2" lengthAdjust="spacingAndGlyphs">10</tspan><tspan dx="0.4" dy="-5.9" font-size="9.4">4</tspan></text>
<text x="135" y="362.1" font-size="13.6" fill="#111" stroke="#111" stroke-width="0.42" text-anchor="start" textLength="49" lengthAdjust="spacingAndGlyphs" >Time (s)</text>
<text x="49.0" y="369.2" font-size="18" fill="#111" stroke="#111" stroke-width="0.42" text-anchor="start" textLength="20.6" lengthAdjust="spacingAndGlyphs" >(b)</text>
<g transform="translate(16.3,271) rotate(-90)"><text x="0" y="0" font-size="14.2" fill="#111" stroke="#111" stroke-width="0.42"><tspan font-style="italic">I</tspan><tspan dy="3" font-size="9.5">G</tspan><tspan dy="-3" dx="2"> (mA/mm)</tspan></text></g>
<path d="M340.4,258.0 H528.72" stroke="#e2fafa" stroke-width="4.5"/>
<rect x="335.9" y="251" width="9" height="12.5" fill="#cdfbfb"/>
<rect x="382.97999999999996" y="251" width="9" height="12.5" fill="#cdfbfb"/>
<rect x="430.05999999999995" y="251" width="9" height="12.5" fill="#cdfbfb"/>
<rect x="477.14" y="251" width="9" height="12.5" fill="#cdfbfb"/>
<rect x="524.22" y="251" width="9" height="12.5" fill="#cdfbfb"/>
<path d="M340.4,258.0 H528.72" stroke="#9aa6e0" stroke-width="1.8"/>
<path d="M434.55999999999995,257.8 L481.64,245.8 L528.72,185.3" stroke="#e0c489" stroke-width="1.5" fill="none"/>
<rect x="477.64" y="241.5" width="8" height="8.5" fill="#fbeef5"/>
<rect x="524.72" y="181" width="8" height="8.5" fill="#fbeef5"/>
<rect x="478.34" y="242.5" width="6.6" height="6.6" fill="#c4a242"/>
<rect x="525.4200000000001" y="182" width="6.6" height="6.6" fill="#c4a242"/>
<circle cx="340.4" cy="257.8" r="3.6" fill="#4a6ae8"/>
<circle cx="340.4" cy="258.1" r="3.0" fill="#3f7ff0"/>
<circle cx="387.47999999999996" cy="257.8" r="3.6" fill="#4a6ae8"/>
<circle cx="387.47999999999996" cy="258.1" r="3.0" fill="#3f7ff0"/>
<circle cx="434.55999999999995" cy="257.8" r="3.6" fill="#4a6ae8"/>
<circle cx="434.55999999999995" cy="258.1" r="3.0" fill="#3f7ff0"/>
<circle cx="481.64" cy="257.8" r="3.6" fill="#4a6ae8"/>
<circle cx="481.64" cy="258.1" r="3.0" fill="#3f7ff0"/>
<circle cx="528.72" cy="257.8" r="3.6" fill="#4a6ae8"/>
<circle cx="528.72" cy="258.1" r="3.0" fill="#3f7ff0"/>
<rect x="404" y="287.5" width="134.2" height="32.8" fill="#000"/>
<rect x="401.5" y="284.5" width="134.5" height="32.6" fill="#fff" stroke="#c9c9c9" stroke-width="0.9"/>
<rect x="412" y="288" width="14" height="11" fill="#fdeaf2"/>
<rect x="410" y="304" width="16" height="10" fill="#d6fcfc"/>
<path d="M402.5,292.6 H432.5" stroke="#ebcf9c" stroke-width="1.2"/>
<rect x="414.4" y="289.6" width="6.8" height="6.4" fill="#c4a242"/>
<path d="M402.5,308.6 H432.5" stroke="#a7afe6" stroke-width="1.2"/>
<circle cx="417.6" cy="308.6" r="3.5" fill="#3f7ff0"/>
<text x="435.7" y="296.8" font-size="10.6" fill="#1a1a1a" stroke="#1a1a1a" stroke-width="0.3" text-anchor="start" textLength="92.8" lengthAdjust="spacingAndGlyphs" >GaN-on-SiC HEMTs</text>
<text x="435.7" y="312.5" font-size="10.6" fill="#1a1a1a" stroke="#1a1a1a" stroke-width="0.3" text-anchor="start" textLength="98.2" lengthAdjust="spacingAndGlyphs" >GaN-on-GaN HEMTs</text>
<rect x="325.2" y="136.8" width="218.40000000000003" height="193.89999999999998" fill="none" stroke="#000" stroke-width="1.6"/>
<path d="M340.40,330.7 v-4.2 M340.40,136.8 v4.2 M387.48,330.7 v-4.2 M387.48,136.8 v4.2 M434.56,330.7 v-4.2 M434.56,136.8 v4.2 M481.64,330.7 v-4.2 M481.64,136.8 v4.2 M528.72,330.7 v-4.2 M528.72,136.8 v4.2 M326.23,330.7 v-2.2 M326.23,136.8 v2.2 M329.96,330.7 v-2.2 M329.96,136.8 v2.2 M333.11,330.7 v-2.2 M333.11,136.8 v2.2 M335.84,330.7 v-2.2 M335.84,136.8 v2.2 M338.25,330.7 v-2.2 M338.25,136.8 v2.2 M354.57,330.7 v-2.2 M354.57,136.8 v2.2 M362.86,330.7 v-2.2 M362.86,136.8 v2.2 M368.74,330.7 v-2.2 M368.74,136.8 v2.2 M373.31,330.7 v-2.2 M373.31,136.8 v2.2 M377.04,330.7 v-2.2 M377.04,136.8 v2.2 M380.19,330.7 v-2.2 M380.19,136.8 v2.2 M382.92,330.7 v-2.2 M382.92,136.8 v2.2 M385.33,330.7 v-2.2 M385.33,136.8 v2.2 M401.65,330.7 v-2.2 M401.65,136.8 v2.2 M409.94,330.7 v-2.2 M409.94,136.8 v2.2 M415.82,330.7 v-2.2 M415.82,136.8 v2.2 M420.39,330.7 v-2.2 M420.39,136.8 v2.2 M424.12,330.7 v-2.2 M424.12,136.8 v2.2 M427.27,330.7 v-2.2 M427.27,136.8 v2.2 M430.00,330.7 v-2.2 M430.00,136.8 v2.2 M432.41,330.7 v-2.2 M432.41,136.8 v2.2 M448.73,330.7 v-2.2 M448.73,136.8 v2.2 M457.02,330.7 v-2.2 M457.02,136.8 v2.2 M462.90,330.7 v-2.2 M462.90,136.8 v2.2 M467.47,330.7 v-2.2 M467.47,136.8 v2.2 M471.20,330.7 v-2.2 M471.20,136.8 v2.2 M474.35,330.7 v-2.2 M474.35,136.8 v2.2 M477.08,330.7 v-2.2 M477.08,136.8 v2.2 M479.49,330.7 v-2.2 M479.49,136.8 v2.2 M495.81,330.7 v-2.2 M495.81,136.8 v2.2 M504.10,330.7 v-2.2 M504.10,136.8 v2.2 M509.98,330.7 v-2.2 M509.98,136.8 v2.2 M514.55,330.7 v-2.2 M514.55,136.8 v2.2 M518.28,330.7 v-2.2 M518.28,136.8 v2.2 M521.43,330.7 v-2.2 M521.43,136.8 v2.2 M524.16,330.7 v-2.2 M524.16,136.8 v2.2 M526.57,330.7 v-2.2 M526.57,136.8 v2.2 M325.2,306.40 h4.2 M543.6,306.40 h-4.2 M325.2,257.90 h4.2 M543.6,257.90 h-4.2 M325.2,209.40 h4.2 M543.6,209.40 h-4.2 M325.2,160.90 h4.2 M543.6,160.90 h-4.2 M325.2,282.15 h2.2 M543.6,282.15 h-2.2 M325.2,233.65 h2.2 M543.6,233.65 h-2.2 M325.2,185.15 h2.2 M543.6,185.15 h-2.2 " stroke="#000" stroke-width="1.1" fill="none"/>
<text x="321.0" y="164.9" font-size="13.8" fill="#111" stroke="#111" stroke-width="0.42" text-anchor="end" textLength="19.6" lengthAdjust="spacingAndGlyphs" >1.4</text>
<text x="321.0" y="213.39999999999998" font-size="13.8" fill="#111" stroke="#111" stroke-width="0.42" text-anchor="end" textLength="19.6" lengthAdjust="spacingAndGlyphs" >1.2</text>
<text x="321.0" y="261.9" font-size="13.8" fill="#111" stroke="#111" stroke-width="0.42" text-anchor="end" textLength="19.6" lengthAdjust="spacingAndGlyphs" >1.0</text>
<text x="321.0" y="310.4" font-size="13.8" fill="#111" stroke="#111" stroke-width="0.42" text-anchor="end" textLength="19.6" lengthAdjust="spacingAndGlyphs" >0.8</text>
<text x="340.3" y="349.1" font-size="13.2" fill="#111" stroke="#111" stroke-width="0.42" text-anchor="middle" textLength="32.6" lengthAdjust="spacingAndGlyphs" >Fresh</text>
<text x="377.68" y="349.1" font-size="13.6" fill="#111" stroke="#111" stroke-width="0.42"><tspan textLength="14.4" lengthAdjust="spacingAndGlyphs">10</tspan><tspan dx="0.4" dy="-5.9" font-size="9.4">1</tspan></text>
<text x="424.76" y="349.1" font-size="13.6" fill="#111" stroke="#111" stroke-width="0.42"><tspan textLength="14.4" lengthAdjust="spacingAndGlyphs">10</tspan><tspan dx="0.4" dy="-5.9" font-size="9.4">2</tspan></text>
<text x="471.84" y="349.1" font-size="13.6" fill="#111" stroke="#111" stroke-width="0.42"><tspan textLength="14.4" lengthAdjust="spacingAndGlyphs">10</tspan><tspan dx="0.4" dy="-5.9" font-size="9.4">3</tspan></text>
<text x="518.92" y="349.1" font-size="13.6" fill="#111" stroke="#111" stroke-width="0.42"><tspan textLength="14.4" lengthAdjust="spacingAndGlyphs">10</tspan><tspan dx="0.4" dy="-5.9" font-size="9.4">4</tspan></text>
<text x="410.4" y="364.6" font-size="13.6" fill="#111" stroke="#111" stroke-width="0.42" text-anchor="start" textLength="48.2" lengthAdjust="spacingAndGlyphs" >Time (s)</text>
<text x="324.6" y="369.2" font-size="18" fill="#111" stroke="#111" stroke-width="0.42" text-anchor="start" textLength="19" lengthAdjust="spacingAndGlyphs" >(c)</text>
<g transform="translate(292.6,255.4) rotate(-90)"><text x="0" y="0" font-size="13.6" fill="#111" stroke="#111" stroke-width="0.45" textLength="24.5" lengthAdjust="spacingAndGlyphs">Nor.</text><text x="29.2" y="0" font-size="13.6" fill="#111" stroke="#111" stroke-width="0.45" font-style="italic" textLength="9" lengthAdjust="spacingAndGlyphs">R</text><text x="38.8" y="3.2" font-size="9.4" fill="#111" stroke="#111" stroke-width="0.35" textLength="5.8" lengthAdjust="spacingAndGlyphs">D</text></g>
</svg></body></html>
